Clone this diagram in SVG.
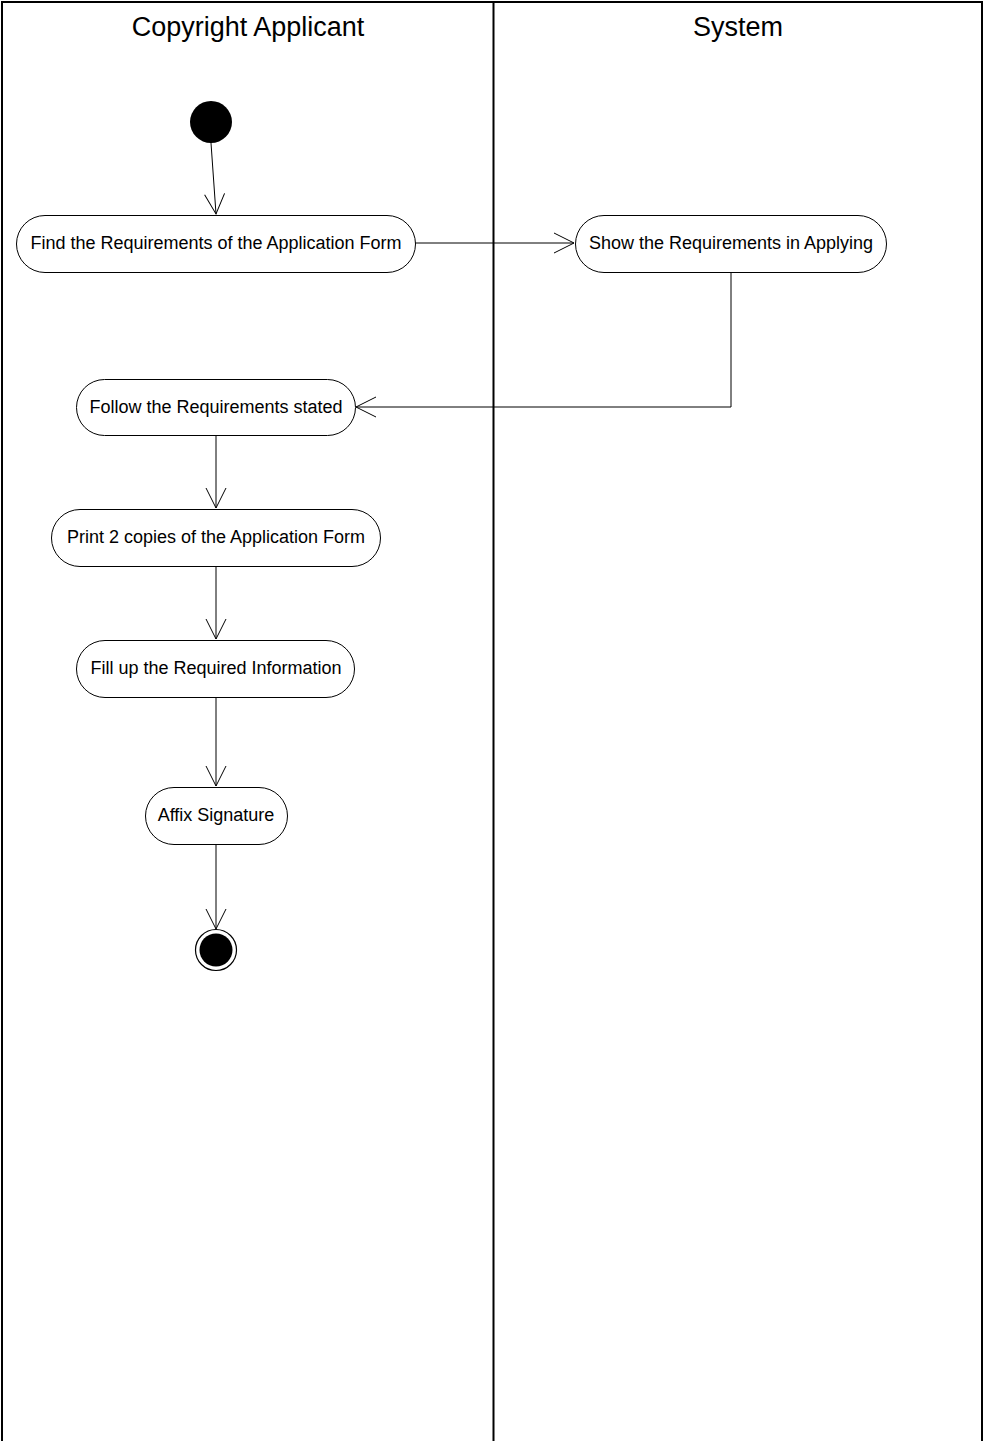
<svg xmlns="http://www.w3.org/2000/svg" width="984" height="1441" viewBox="0 0 984 1441">
  <style>
    .lane { fill: none; stroke: #000; stroke-width: 2; }
    .title { font-family: "Liberation Sans", Arial, sans-serif; font-size: 27px; fill: #000; text-anchor: middle; }
    .act rect { fill: #fff; stroke: #000; stroke-width: 1; }
    .act text { font-family: "Liberation Sans", Arial, sans-serif; font-size: 18px; fill: #000; text-anchor: middle; }
    .edge { fill: none; stroke: #000; stroke-width: 1; marker-end: url(#open); }
  </style>
  <defs>
    <marker id="open" viewBox="0 0 22 22" refX="21" refY="11" markerWidth="22" markerHeight="22" markerUnits="userSpaceOnUse" orient="auto">
      <path d="M1,1 L21,11 L1,21" fill="none" stroke="#000" stroke-width="1"/>
    </marker>
  </defs>
  <rect x="0" y="0" width="984" height="1441" fill="#fff"/>

  <!-- swimlanes -->
  <g id="lanes">
    <path class="lane" d="M2,1441 V2 H982 V1441"/>
    <path class="lane" d="M493.5,2 V1441"/>
    <text class="title" x="248" y="36">Copyright Applicant</text>
    <text class="title" x="738" y="36">System</text>
  </g>

  <!-- connectors -->
  <g id="connectors">
    <path class="edge" d="M211,143 L216,214"/>
    <path class="edge" d="M415,243 H574"/>
    <path class="edge" d="M731,272 V407 H356"/>
    <path class="edge" d="M216,435 V508"/>
    <path class="edge" d="M216,566 V639"/>
    <path class="edge" d="M216,697 V786"/>
    <path class="edge" d="M216,844 V929"/>
  </g>

  <g id="start">
    <circle cx="211" cy="122" r="21" fill="#000"/>
  </g>

  <g id="find" class="act">
    <rect x="16.5" y="215.5" width="399" height="57" rx="28.5" ry="28.5"/>
    <text x="216" y="249">Find the Requirements of the Application Form</text>
  </g>

  <g id="show" class="act">
    <rect x="575.5" y="215.5" width="311" height="57" rx="28.5" ry="28.5"/>
    <text x="731" y="249">Show the Requirements in Applying</text>
  </g>

  <g id="follow" class="act">
    <rect x="76.5" y="379.5" width="279" height="56" rx="28" ry="28"/>
    <text x="216" y="413">Follow the Requirements stated</text>
  </g>

  <g id="print" class="act">
    <rect x="51.5" y="509.5" width="329" height="57" rx="28.5" ry="28.5"/>
    <text x="216" y="543">Print 2 copies of the Application Form</text>
  </g>

  <g id="fill" class="act">
    <rect x="76.5" y="640.5" width="278" height="57" rx="28.5" ry="28.5"/>
    <text x="216" y="674">Fill up the Required Information</text>
  </g>

  <g id="affix" class="act">
    <rect x="145.5" y="787.5" width="142" height="57" rx="28.5" ry="28.5"/>
    <text x="216" y="821">Affix Signature</text>
  </g>

  <g id="end">
    <circle cx="216" cy="950" r="20.5" fill="#fff" stroke="#000" stroke-width="1.2"/>
    <circle cx="216" cy="950" r="16.5" fill="#000"/>
  </g>
</svg>
